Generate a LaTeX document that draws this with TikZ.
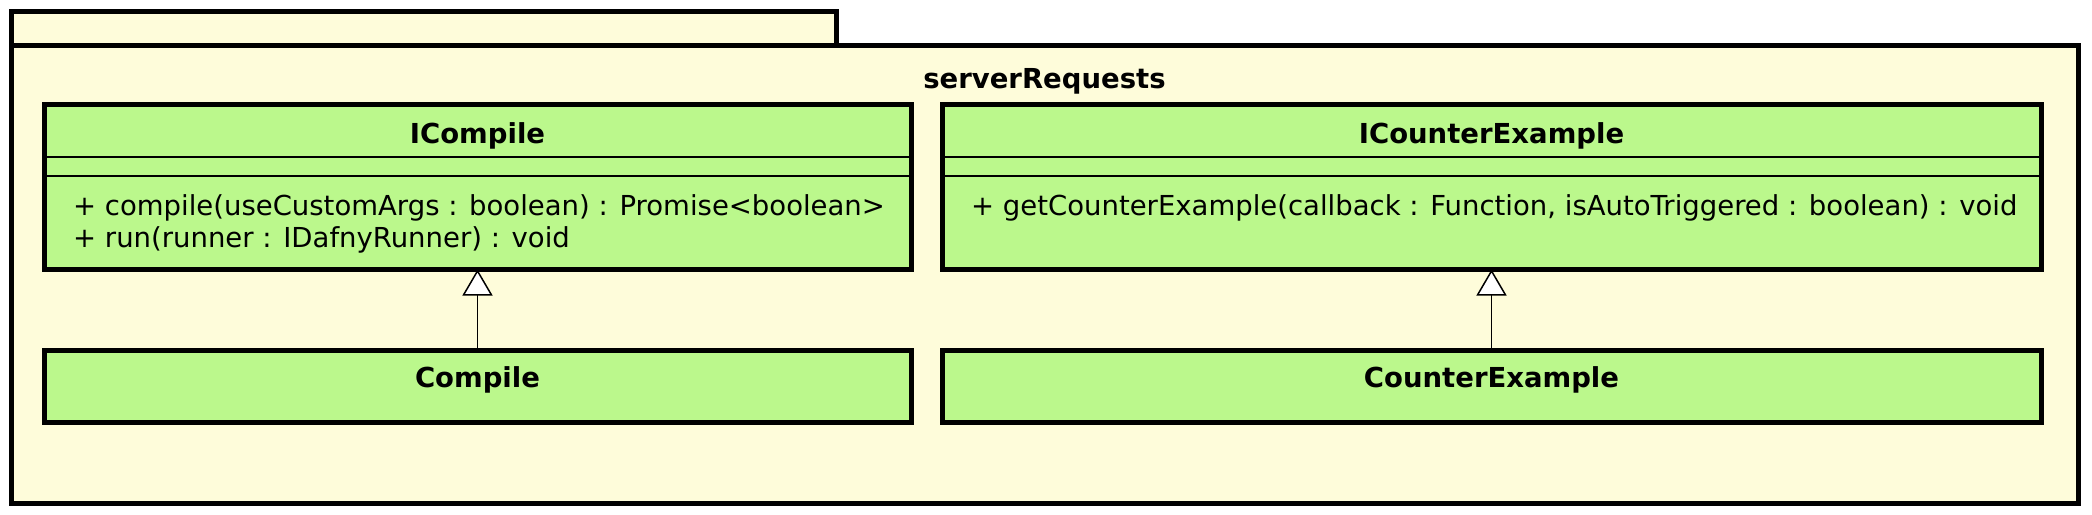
\documentclass[tikz,border=0pt]{standalone}
\usepackage{fontspec}
\setmainfont{DejaVu Sans}
\usetikzlibrary{arrows.meta}
\definecolor{pkgyellow}{RGB}{254,252,218}
\definecolor{classgreen}{RGB}{187,248,140}
\tikzset{pkg/.style={draw=black, line width=5pt, fill=pkgyellow},
classbox/.style={draw=black, line width=5pt, fill=classgreen, inner sep=0pt, outer sep=0pt},
sepline/.style={draw=black, line width=2pt},
classname/.style={font=\fontsize{27.5}{33}\selectfont\bfseries, anchor=base, inner sep=0pt},
member/.style={font=\fontsize{27.5}{33}\selectfont, anchor=base west, inner sep=0pt},
%realization: plain line, white triangle at the interface
inherit/.style={draw=black, line width=1.5pt, -{Triangle[width=30pt, length=26pt, fill=white, line width=1.5pt]}}}

\begin{document}
\begin{tikzpicture}[x=1pt,y=-1pt]
    \useasboundingbox (0,0) rectangle (2092,514);

    \coordinate (left) at (477.5,0);
    \coordinate (right) at (1491.5,0);

    \draw[pkg] (11,11) rectangle (836,45);
    \draw[pkg] (11,45) rectangle (2078,503);
    \node[classname] (pkgname) at (1044.5,88) {serverRequests};

    \node[classbox, minimum width=867pt, minimum height=165pt] (icompile) at (left |- 0,187) {};
    \node[classbox, minimum width=1099pt, minimum height=165pt] (icounter) at (right |- 0,187) {};
    \node[classbox, minimum width=867pt, minimum height=72pt] (compile) at (left |- 0,386) {};
    \node[classbox, minimum width=1099pt, minimum height=72pt] (counter) at (right |- 0,386) {};

    \foreach \c in {icompile,icounter} {
      \draw[sepline] ([yshift=-52pt]\c.north west) -- ([yshift=-52pt]\c.north east);
      \draw[sepline] ([yshift=-71pt]\c.north west) -- ([yshift=-71pt]\c.north east);
    }

    \node[classname] (icompilename) at (left |- 0,143) {ICompile};
    \node[classname] (icountername) at (right |- 0,143) {ICounterExample};
    \node[classname] (compilename) at (left |- 0,387) {Compile};
    \node[classname] (countername) at (right |- 0,387) {CounterExample};

    \node[member] (compileop) at (73,215) {+ compile(useCustomArgs : boolean) : Promise<boolean>};
    \node[member] (runop) at (73,247) {+ run(runner : IDafnyRunner) : void};
    \node[member] (counterop) at (971,215) {+ getCounterExample(callback : Function, isAutoTriggered : boolean) : void};

    \foreach \a/\b in {compile/icompile,counter/icounter}
    \draw[inherit] (\a) -- (\b);

\end{tikzpicture}
\end{document}
